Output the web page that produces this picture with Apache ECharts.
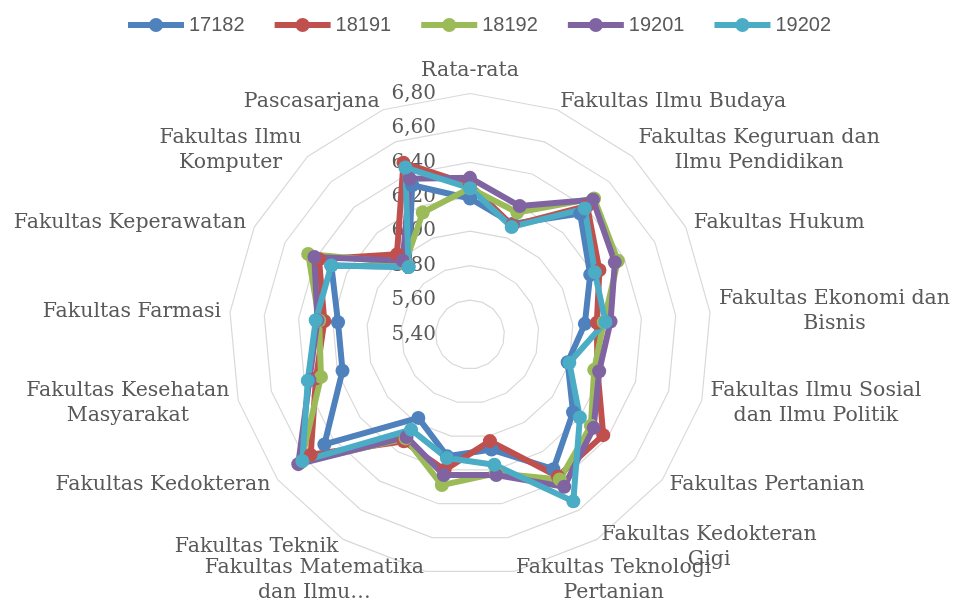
<!DOCTYPE html>
<html>
<head>
<meta charset="utf-8">
<script src="https://cdn.jsdelivr.net/npm/echarts@6/dist/echarts.min.js"></script>
<style>
  html, body { margin: 0; padding: 0; background: #fff; }
  #chart { width: 958px; height: 601px; }
</style>
</head>
<body>
<div id="chart"></div>
<script>
// kategori, urutan searah jarum jam mulai dari atas
const categories = [
  'Rata-rata',
  'Fakultas Ilmu Budaya',
  'Fakultas Keguruan dan\nIlmu Pendidikan',
  'Fakultas Hukum',
  'Fakultas Ekonomi dan\nBisnis',
  'Fakultas Ilmu Sosial\ndan Ilmu Politik',
  'Fakultas Pertanian',
  'Fakultas Kedokteran\nGigi',
  'Fakultas Teknologi\nPertanian',
  'Fakultas Matematika\ndan Ilmu…',
  'Fakultas Teknik',
  'Fakultas Kedokteran',
  'Fakultas Kesehatan\nMasyarakat',
  'Fakultas Farmasi',
  'Fakultas Keperawatan',
  'Fakultas Ilmu\nKomputer',
  'Pascasarjana'
];

const seriesNames = ['17182', '18191', '18192', '19201', '19202'];
const colors = ['#4F81BD', '#C0504D', '#9BBB59', '#8064A2', '#4BACC6'];

const s17182 = [6.19, 6.09, 6.35, 6.18, 6.07, 5.99, 6.15, 6.32, 6.08, 6.12, 5.97, 6.46, 6.17, 6.17, 6.30, 5.93, 6.33];
const s18191 = [6.27, 6.08, 6.41, 6.24, 6.14, 6.17, 6.37, 6.37, 6.03, 6.20, 6.13, 6.56, 6.33, 6.25, 6.38, 6.03, 6.47];
const s18192 = [6.25, 6.16, 6.47, 6.36, 6.18, 6.15, 6.28, 6.39, 6.22, 6.29, 6.11, 6.63, 6.30, 6.28, 6.45, 5.96, 6.16];
const s19201 = [6.31, 6.20, 6.46, 6.34, 6.22, 6.18, 6.30, 6.44, 6.23, 6.23, 6.10, 6.65, 6.37, 6.29, 6.41, 5.98, 6.37];
const s19202 = [6.25, 6.07, 6.39, 6.21, 6.19, 6.00, 6.20, 6.54, 6.17, 6.13, 6.05, 6.62, 6.38, 6.30, 6.30, 5.93, 6.44];

const axisMin = 5.4;
const axisMax = 6.8;

// echarts menyusun indikator berlawanan jarum jam, jadi urutannya dibalik
const order = [0];
for (let i = categories.length - 1; i > 0; i--) order.push(i);
const pick = arr => order.map(i => arr[i]);

const allSeries = [s17182, s18191, s18192, s19201, s19202];

const indicator = order.map((i, k) => {
  const ind = { name: categories[i], min: axisMin, max: axisMax };
  if (k === 0) ind.axisLabel = { show: true };
  return ind;
});

// ikon legenda: garis + lingkaran
const legendIcon = 'path://M0,4 L56,4 L56,10 L0,10 Z M21,7 A7,7 0 1 1 35,7 A7,7 0 1 1 21,7 Z';

const labelFont = {
  color: '#595959',
  fontFamily: 'DejaVu Serif',
  fontSize: 20.5,
  lineHeight: 25
};

const chart = echarts.init(document.getElementById('chart'));
chart.setOption({
  animation: false,
  legend: {
    top: 10,
    left: 123,
    icon: legendIcon,
    itemWidth: 56,
    itemHeight: 14,
    itemGap: 30,
    textStyle: { fontFamily: 'Liberation Sans', fontSize: 20, color: '#595959' },
    data: seriesNames
  },
  radar: {
    center: [470, 334.5],
    radius: 241,
    startAngle: 90,
    splitNumber: 7,
    shape: 'polygon',
    nameGap: 9,
    axisName: Object.assign({}, labelFont, {
      // tiap baris label di tengah, seperti di Excel
      formatter: name => name.split('\n').map(s => '{c|' + s + '}').join('\n'),
      rich: { c: Object.assign({ align: 'center' }, labelFont) }
    }),
    axisLine: { show: false },
    axisTick: { show: false },
    axisLabel: {
      show: false,
      margin: 34,
      color: '#595959',
      fontFamily: 'DejaVu Serif',
      fontSize: 20,
      formatter: v => Number(v).toFixed(2).replace('.', ',')
    },
    splitLine: { lineStyle: { color: '#d9d9d9', width: 1.2 } },
    splitArea: { show: false },
    indicator: indicator
  },
  series: [{
    type: 'radar',
    symbol: 'circle',
    symbolSize: 14,
    data: allSeries.map((arr, k) => ({
      name: seriesNames[k],
      value: pick(arr),
      itemStyle: { color: colors[k] },
      lineStyle: { color: colors[k], width: 6, join: 'round' }
    }))
  }]
});
</script>
</body>
</html>
